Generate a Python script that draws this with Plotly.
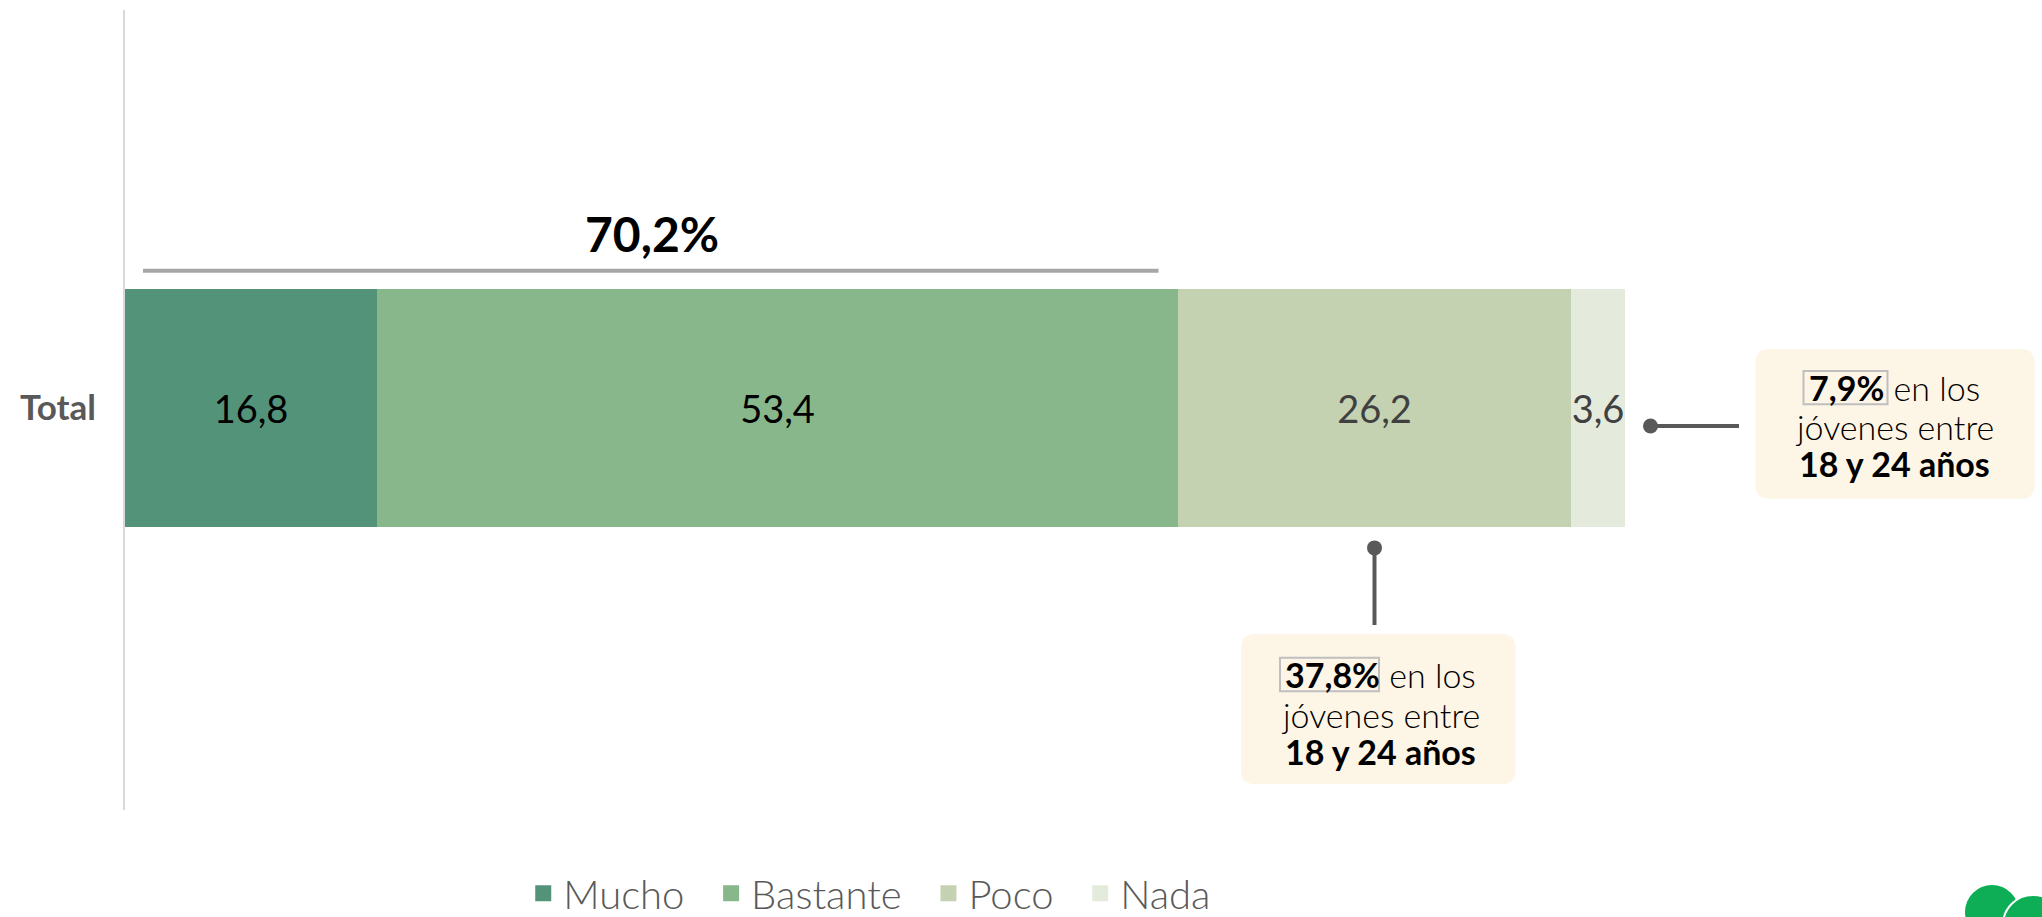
import plotly.graph_objects as go

# data
categories = ["Total"]
series_names = ["Mucho", "Bastante", "Poco", "Nada"]
series_values = [16.8, 53.4, 26.2, 3.6]
series_colors = ["#52937a", "#87b78b", "#c4d2b2", "#e4ebdd"]
label_colors = ["#000000", "#000000", "#404040", "#404040"]
callout_pcts = ["37,8%", "7,9%"]
callout_lines = [" en los", "jóvenes entre", "<b>18 y 24 años</b>"]

FONT = "Lato, 'Open Sans', sans-serif"
W, H = 2042, 917
ML, MR, MT, MB = 125, 5, 10, 107
X_PX = 15.0    # pixels per x unit
Y_PX = 238.0   # pixels per y unit (bar thickness = 1)
x_max = (W - ML - MR) / X_PX
y_top = 1.672
y_bot = y_top - (H - MT - MB) / Y_PX


def rounded_box(x0, x1, y0, y1, r=14):
    rx, ry = r / X_PX, r / Y_PX
    return (f"M{x0 + rx},{y1} L{x1 - rx},{y1} Q{x1},{y1} {x1},{y1 - ry} "
            f"L{x1},{y0 + ry} Q{x1},{y0} {x1 - rx},{y0} "
            f"L{x0 + rx},{y0} Q{x0},{y0} {x0},{y0 + ry} "
            f"L{x0},{y1 - ry} Q{x0},{y1} {x0 + rx},{y1} Z")


fig = go.Figure()

for name, val, col, lcol in zip(series_names, series_values, series_colors, label_colors):
    fig.add_trace(go.Bar(
        x=[val], y=[0], name=name, orientation="h", width=1,
        marker=dict(color=col, line=dict(width=0)),
        texttemplate="%{x:.1f}", textposition="inside", insidetextanchor="middle",
        constraintext="none", textangle=0,
        textfont=dict(family=FONT, size=38, color=lcol, weight=400),
        hoverinfo="skip", showlegend=False,
    ))
    # legend entry with a bigger square; nbsp pads the gap to the next entry
    fig.add_trace(go.Scatter(
        x=[None], y=[None], name=name + "\u00a0\u00a0", mode="markers",
        marker=dict(color=col, symbol="square", size=16),
    ))

# bracket over Mucho + Bastante
top_two = series_values[0] + series_values[1]
shapes = [dict(type="line", xref="x", yref="y", x0=1.2, x1=top_two - 1.3, y0=0.576, y1=0.576,
               line=dict(color="#a6a6a6", width=4))]
annotations = [dict(x=top_two / 2, y=0.735, xref="x", yref="y", showarrow=False,
                    text=f"<b>{top_two:.1f}%</b>".replace(".", ","),
                    font=dict(family=FONT, size=48, color="#000000"))]

# callouts
poco_mid = series_values[0] + series_values[1] + series_values[2] / 2
callouts = [
    dict(dot=(poco_mid, -0.588), end=(poco_mid, -0.912), box=(74.4, 92.7, -1.58, -0.95),
         tx=83.7, ty=[-1.122, -1.286, -1.445], pct=(77.0, 83.6, -1.19, -1.05),
         label=callout_pcts[0]),
    dict(dot=(101.7, -0.076), end=(107.6, -0.076), box=(108.7, 127.3, -0.382, 0.248),
         tx=117.97, ty=[0.084, -0.076, -0.235], pct=(111.9, 117.5, 0.015, 0.155),
         label=callout_pcts[1]),
]
for c in callouts:
    shapes.append(dict(type="line", xref="x", yref="y", x0=c["dot"][0], y0=c["dot"][1],
                       x1=c["end"][0], y1=c["end"][1], line=dict(color="#595959", width=4)))
    bx0, bx1, by0, by1 = c["box"]
    shapes.append(dict(type="path", xref="x", yref="y", path=rounded_box(bx0, bx1, by0, by1),
                       fillcolor="#fdf5e6", line=dict(width=0), layer="below"))
    px0, px1, py0, py1 = c["pct"]
    shapes.append(dict(type="rect", xref="x", yref="y", x0=px0, x1=px1, y0=py0, y1=py1,
                       line=dict(color="#bfbfbf", width=2)))
    texts = [f"<b>{c['label']}</b>{callout_lines[0]}"] + callout_lines[1:]
    for t, yy in zip(texts, c["ty"]):
        annotations.append(dict(x=c["tx"], y=yy, xref="x", yref="y", showarrow=False,
                                text=t, align="center",
                                font=dict(family=FONT, size=34, color="#000000", weight=300)))
    fig.add_trace(go.Scatter(x=[c["dot"][0]], y=[c["dot"][1]], mode="markers",
                             marker=dict(color="#595959", size=15), showlegend=False,
                             hoverinfo="skip", cliponaxis=False))

# logo circles in the corner
shapes.append(dict(type="circle", xref="paper", yref="paper",
                   x0=(1965 - ML) / 1912, x1=(2019 - ML) / 1912,
                   y0=(H - MB - 939) / 800, y1=(H - MB - 885) / 800,
                   fillcolor="#0dae55", line=dict(width=0)))
shapes.append(dict(type="circle", xref="paper", yref="paper",
                   x0=(2003 - ML) / 1912, x1=(2063 - ML) / 1912,
                   y0=(H - MB - 955) / 800, y1=(H - MB - 895) / 800,
                   fillcolor="#0dae55", line=dict(color="white", width=2)))

fig.update_layout(
    barmode="stack",
    width=W, height=H,
    margin=dict(l=ML, r=MR, t=MT, b=MB, autoexpand=False),
    plot_bgcolor="white", paper_bgcolor="white",
    separators=",.",
    shapes=shapes, annotations=annotations,
    xaxis=dict(range=[0, x_max], showgrid=False, zeroline=False, showticklabels=False,
               showline=False, fixedrange=True),
    yaxis=dict(range=[y_bot, y_top], tickvals=[0], ticktext=[f"<b>{categories[0]}</b>"],
               tickfont=dict(family=FONT, size=35, color="#595959"), ticks="",
               ticklabelstandoff=20, showgrid=False, zeroline=False,
               showline=True, linecolor="#d9d9d9", linewidth=2, fixedrange=True),
    legend=dict(orientation="h", x=0.395, xanchor="center", y=-0.104, yanchor="middle",
                font=dict(family=FONT, size=40, color="#595959", weight=300),
                traceorder="normal", itemsizing="trace"),
    showlegend=True,
)

fig.write_html("out.html", config={"displayModeBar": False},
               post_script="document.body.style.margin='0';")
